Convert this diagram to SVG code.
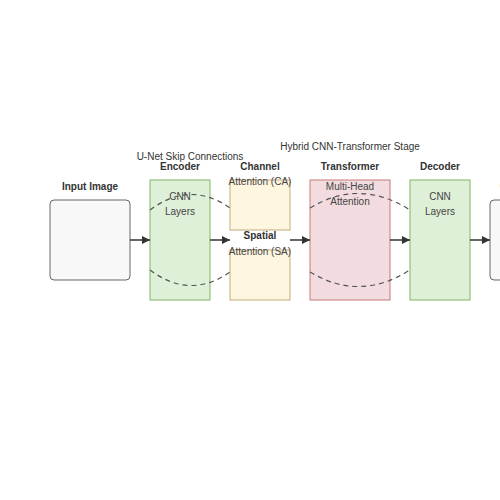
<svg xmlns="http://www.w3.org/2000/svg" width="500" height="500" viewBox="0 0 500 500">
<defs>
<marker id="arr" markerWidth="8" markerHeight="8" refX="8" refY="4" orient="auto" markerUnits="userSpaceOnUse">
<path d="M0,0 L8,4 L0,8 Z" fill="#333"/>
</marker>
</defs>
<style>
text{font-family:"Liberation Sans",Arial,sans-serif;font-size:10px;text-anchor:middle}
.t{font-weight:bold;fill:#333}
.i{fill:#444}
.cap{fill:#333}
.io{fill:#f8f8f8;stroke:#666;stroke-width:1}
.cnn{fill:#dff0d8;stroke:#82b366;stroke-width:1}
.att{fill:#fff6e0;stroke:#c2ab7c;stroke-width:1}
.tr{fill:#f2dcdf;stroke:#c97b7b;stroke-width:1}
.a{stroke:#333;stroke-width:1.5;fill:none;marker-end:url(#arr)}
.sk{stroke:#555;stroke-width:1.2;fill:none;stroke-dasharray:5,4}
</style>
<rect width="500" height="500" fill="#fff"/>
<text class="cap" x="190" y="160">U-Net Skip Connections</text>
<text class="cap" x="350" y="150">Hybrid CNN-Transformer Stage</text>
<g id="input">
<rect class="io" x="50" y="200" width="80" height="80" rx="4"/>
<text class="t" x="90" y="190">Input Image</text>
</g>
<g id="encoder">
<rect class="cnn" x="150" y="180" width="60" height="120"/>
<text class="t" x="180" y="170">Encoder</text>
<text class="i" x="180" y="200">CNN</text>
<text class="i" x="180" y="215">Layers</text>
</g>
<g id="channel-attention">
<rect class="att" x="230" y="180" width="60" height="50"/>
<text class="t" x="260" y="170">Channel</text>
<text class="i" x="260" y="185">Attention (CA)</text>
</g>
<g id="spatial-attention">
<rect class="att" x="230" y="250" width="60" height="50"/>
<text class="t" x="260" y="239">Spatial</text>
<text class="i" x="260" y="255">Attention (SA)</text>
</g>
<g id="transformer">
<rect class="tr" x="310" y="180" width="80" height="120"/>
<text class="t" x="350" y="170">Transformer</text>
<text class="i" x="350" y="190">Multi-Head</text>
<text class="i" x="350" y="205">Attention</text>
</g>
<g id="decoder">
<rect class="cnn" x="410" y="180" width="60" height="120"/>
<text class="t" x="440" y="170">Decoder</text>
<text class="i" x="440" y="200">CNN</text>
<text class="i" x="440" y="215">Layers</text>
</g>
<g id="output">
<rect class="io" x="490" y="200" width="80" height="80" rx="4"/>
<text class="t" x="530" y="190">Output Mask</text>
</g>
<g id="connectors">
<line class="a" x1="130" y1="240" x2="150" y2="240"/>
<line class="a" x1="210" y1="240" x2="230" y2="240"/>
<line class="a" x1="290" y1="240" x2="310" y2="240"/>
<line class="a" x1="390" y1="240" x2="410" y2="240"/>
<line class="a" x1="470" y1="240" x2="490" y2="240"/>
<path class="sk" d="M150,210 Q190,180 230,208"/>
<path class="sk" d="M150,270 Q190,300 230,272"/>
<path class="sk" d="M310,208 Q360,178 410,210"/>
<path class="sk" d="M310,272 Q360,302 410,270"/>
</g>
</svg>
